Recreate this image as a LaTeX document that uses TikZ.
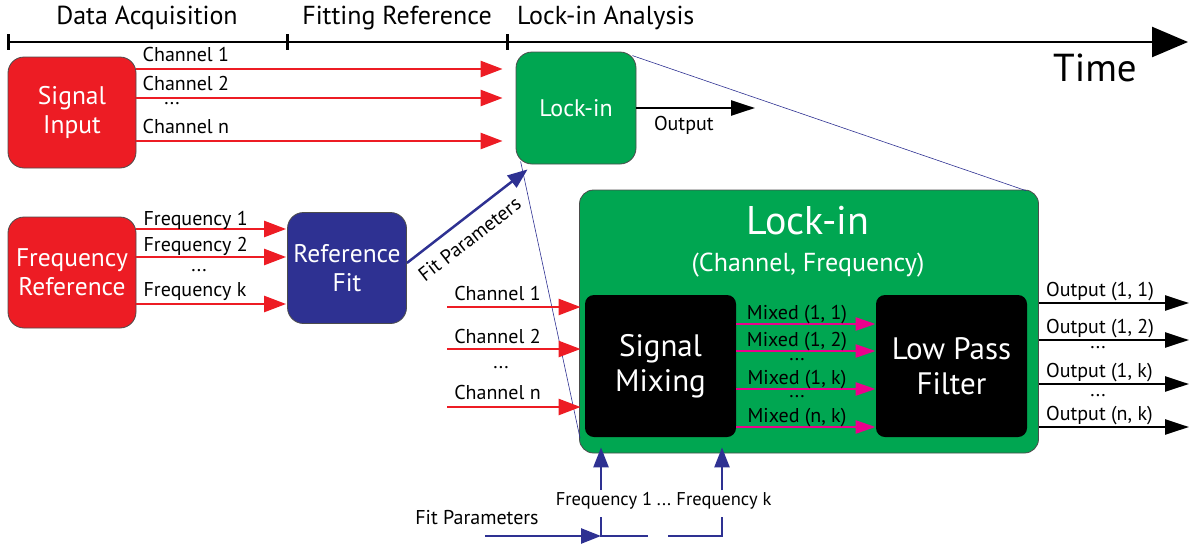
\documentclass[tikz,border=0pt]{standalone}
\usepackage{fontspec}
\setmainfont{PT Sans}
\usetikzlibrary{arrows.meta,calc}

\definecolor{sigred}{HTML}{ED1C24}
\definecolor{lockgreen}{HTML}{00A651}
\definecolor{fitblue}{HTML}{2E3192}
\definecolor{mixpink}{HTML}{EC008C}

\begin{document}
\begin{tikzpicture}[x=1pt,y=-1pt,
    lab/.style={font=\fontsize{20}{22}\selectfont, inner sep=1pt},
    smalllab/.style={font=\fontsize{18.5}{20}\selectfont, inner sep=1pt},
    phase/.style={font=\fontsize{26}{28}\selectfont, inner sep=1pt},
    box/.style={draw=black!70, line width=0.8pt, rounded corners=16pt, text=white, align=center, inner sep=0pt},
    redbox/.style={box, fill=sigred, minimum width=128pt, minimum height=111pt, font=\fontsize{25.5}{29}\selectfont},
    bluebox/.style={box, fill=fitblue, minimum width=119pt, minimum height=111pt, font=\fontsize{25.5}{29}\selectfont},
    greenbox/.style={box, fill=lockgreen, minimum width=120pt, minimum height=112pt, font=\fontsize{24}{28}\selectfont},
    bigbox/.style={box, fill=lockgreen, rounded corners=14pt, minimum width=459pt, minimum height=263pt},
    blackbox/.style={box, draw=none, fill=black, rounded corners=9pt, minimum width=151pt, minimum height=142pt, font=\fontsize{31}{35}\selectfont},
    sigarrow/.style={draw=sigred, line width=2.5pt, -{Triangle[length=22pt,width=16pt]}},
    mixarrow/.style={draw=mixpink, line width=2.5pt, -{Triangle[length=20pt,width=13pt]}},
    outarrow/.style={draw=black, line width=2.5pt, -{Triangle[length=24pt,width=15pt]}},
    fitarrow/.style={draw=fitblue, line width=2.5pt, -{Triangle[length=20pt,width=15pt]}},
    fitline/.style={draw=fitblue, line width=2.5pt},
    zoomline/.style={draw=fitblue, line width=0.6pt},
    timeline/.style={draw=black, line width=2.5pt, -{Triangle[length=36pt,width=30pt]}},
    tick/.style={draw=black, line width=3pt}
  ]
  \useasboundingbox (0,0) rectangle (1189,544);

  % time axis
  \coordinate (t0) at (8,42);
  \coordinate (t1) at (287,42);
  \coordinate (t2) at (507,42);
  \coordinate (tend) at (1188,42);
  \draw[timeline] (t0) -- (tend);
  \foreach \t in {t0,t1,t2}
    \draw[tick] ($(\t)+(0,-8)$) -- ($(\t)+(0,8)$);
  \node[phase] (ph1) at (147,18) {Data Acquisition};
  \node[phase] (ph2) at (397,18) {Fitting Reference};
  \node[phase, anchor=west] (ph3) at (516,18) {Lock-in Analysis};
  \node[font=\fontsize{39}{42}\selectfont] (time) at (1095,68) {Time};

  % blocks
  \node[redbox] (sig) at (72,112.5) {Signal\\Input};
  \node[redbox] (fref) at (72,272.5) {Frequency\\Reference};
  \node[bluebox] (rfit) at (347,268) {Reference\\Fit};
  \node[greenbox] (lk) at (576,108) {Lock-in};
  \node[bigbox] (big) at (809,321.5) {};
  \node[text=white, font=\fontsize{40}{44}\selectfont] (bigtitle) at (808,221) {Lock-in};
  \node[text=white, font=\fontsize{26}{28}\selectfont] (bigsub) at (808,265) {(Channel, Frequency)};
  \node[blackbox] (mix) at (660.5,366) {Signal\\Mixing};
  \node[blackbox] (lpf) at (951.5,366) {Low Pass\\Filter};

  % zoom lines from the small lock-in to the detailed one
  \draw[zoomline] ($(lk.north east)+(-4,4)$) -- ($(big.north east)+(-13,1)$);
  \draw[zoomline] ($(lk.south west)+(5,-3)$) -- ($(big.south west)+(1,-15)$);

  % data acquisition
  \foreach \y/\txt in {69/Channel 1, 98/Channel 2, 141/Channel n}
    \draw[sigarrow, shorten >=13pt] (sig.east |- 0,\y) --
      node[lab, pos=0, anchor=base west, xshift=4pt, yshift=7.5pt] {\txt} (lk.west |- 0,\y);
  \node[lab] (sigdots) at (172,104) {...};

  \foreach \y/\s/\txt in {229/4/Frequency 1, 257/5.5/Frequency 2, 304/8/Frequency k}
    \draw[sigarrow, shorten >=1pt] (fref.east |- 0,\y) --
      node[lab, pos=0, anchor=base west, xshift=5pt, yshift=\s pt] {\txt} (rfit.west |- 0,\y);
  \node[lab] (frdots) at (199,271) {...};

  % reference fit
  \draw[fitarrow] ($(rfit.east)+(0,-5)$) --
    node[lab, sloped, below=10pt, pos=0.42] {Fit Parameters} ($(lk.south west)+(12,5)$);

  \coordinate (lkout) at (755,108);
  \draw[outarrow] (lk.east) -- node[lab, pos=0.4, below=6pt] {Output} (lkout);

  % inside the lock-in
  \coordinate (chin) at (447,0);
  \foreach \y/\s/\txt in {307/6.5/Channel 1, 349/5.5/Channel 2, 407/7.5/Channel n}
    \draw[sigarrow, shorten >=4pt] (chin |- 0,\y) --
      node[lab, pos=0, anchor=base west, xshift=5pt, yshift=\s pt] {\txt} (mix.west |- 0,\y);
  \node[lab] (chdots) at (501,368) {...};

  \foreach \y/\txt in {324/{Mixed (1, 1)}, 351/{Mixed (1, 2)}, 389/{Mixed (1, k)}, 427/{Mixed (n, k)}}
    \draw[mixarrow] (mix.east |- 0,\y) --
      node[lab, anchor=base, xshift=-9pt, yshift=4.5pt] {\txt} (lpf.west |- 0,\y);
  \node[lab] (mxdots1) at (797,360) {...};
  \node[lab] (mxdots2) at (797,397) {...};

  \coordinate (outend) at (1189,0);
  \foreach \y/\txt in {303/{Output (1, 1)}, 340/{Output (1, 2)}, 384/{Output (1, k)}, 427/{Output (n, k)}}
    \draw[outarrow] (big.east |- 0,\y) --
      node[lab, pos=0, anchor=base west, xshift=5pt, yshift=6.5pt] {\txt} (outend |- 0,\y);
  \node[lab] (oudots1) at (1098,348) {...};
  \node[lab] (oudots2) at (1098,396) {...};

  % fit parameters feeding the mixer
  \coordinate (f1) at (601,490);
  \coordinate (fk) at (722,490);
  \foreach \c in {f1,fk}
    \draw[fitarrow, shorten >=-6pt] (\c) -- (\c |- big.south);
  \node[smalllab] (fq1) at (604,501) {Frequency 1};
  \node[smalllab] (fqdots) at (664,505) {...};
  \node[smalllab] (fqk) at (724,501) {Frequency k};
  \node[lab] (fitp) at (477,518) {Fit Parameters};

  \coordinate (fpin) at (485,536);
  \coordinate (br1) at (601,517);
  \coordinate (br2) at (648,536);
  \coordinate (br3) at (668,536);
  \coordinate (br4) at (722,517);
  \draw[fitarrow] (fpin) -- (fpin -| br1);
  \draw[fitline] (br1) |- (br2) (br3) -| (br4);
\end{tikzpicture}
\end{document}
